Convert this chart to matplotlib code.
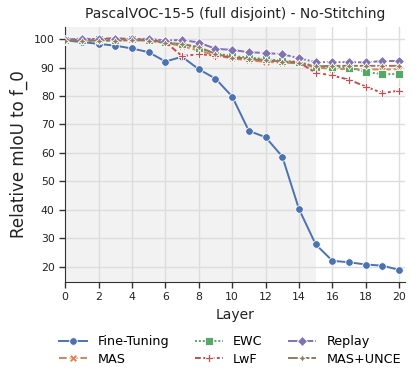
import numpy as np
import matplotlib
matplotlib.use("Agg")
import matplotlib.pyplot as plt

# ------------------------------------------
# Data
# ------------------------------------------

layers = list(range(21))

fine_tuning = [99.5, 99.0, 98.3, 97.7, 96.7, 95.4, 92.1, 93.8, 89.4, 86.1, 79.8,
               67.7, 65.5, 58.7, 40.2, 27.8, 22.0, 21.5, 20.7, 20.3, 18.8]
mas = [99.6, 99.8, 99.7, 99.9, 99.8, 99.6, 98.8, 97.5, 96.0, 94.3, 93.2,
       92.5, 92.0, 91.7, 91.5, 90.0, 89.5, 89.5, 89.4, 89.3, 89.4]
ewc = [99.7, 99.8, 100.0, 99.8, 99.9, 99.7, 98.9, 98.2, 96.8, 95.0, 94.0,
       93.5, 93.0, 92.4, 92.0, 90.3, 90.2, 90.0, 88.4, 87.7, 87.7]
lwf = [99.6, 99.9, 100.1, 100.3, 100.0, 99.8, 99.0, 94.0, 94.7, 94.2, 93.6,
       93.1, 92.6, 92.1, 91.8, 88.2, 87.2, 85.7, 83.3, 81.0, 81.9]
replay = [99.8, 100.2, 99.9, 100.2, 100.0, 100.1, 99.5, 99.7, 98.8, 96.6, 96.2,
          95.4, 95.1, 94.7, 93.3, 91.9, 91.9, 91.9, 91.8, 92.3, 92.3]
mas_unce = [99.5, 99.3, 99.5, 99.4, 99.6, 99.5, 98.6, 98.3, 97.2, 94.8, 93.5,
            93.0, 92.5, 92.1, 91.6, 90.4, 90.6, 90.6, 90.6, 90.6, 90.6]

series = [
    ("Fine-Tuning", fine_tuning, "#4C72B0", "o", ""),
    ("MAS", mas, "#DD8452", "X", (4, 1.5)),
    ("EWC", ewc, "#55A868", "s", (1, 1)),
    ("LwF", lwf, "#C44E52", "P", (3, 1.25, 1.5, 1.25)),
    ("Replay", replay, "#8172B3", "D", (5, 1, 1, 1)),
    ("MAS+UNCE", mas_unce, "#937860", (4, 1, 0), (5, 1, 2, 1, 2, 1)),
]

# ------------------------------------------
# Plot
# ------------------------------------------

fig = plt.figure(figsize=(4.15, 3.8), dpi=100)
ax = fig.add_axes([0.157, 0.259, 0.819, 0.671])

ax.axvspan(0, 15, color="#f2f2f2", zorder=0, lw=0)
ax.grid(True, color="#dddddd", lw=1.0, zorder=1)
ax.set_axisbelow(True)

for name, vals, col, mk, dash in series:
    ms = 4.6 if mk == "D" else 5.5
    kw = dict(color=col, marker=mk, markersize=ms, markeredgecolor="white",
              markeredgewidth=0.6, lw=1.4, label=name, zorder=3)
    if dash == "":
        ax.plot(layers, vals, linestyle="-", **kw)
    else:
        ax.plot(layers, vals, dashes=dash, **kw)

ax.set_xlim(0, 20.35)
ax.set_ylim(14.7, 104.4)
ax.set_xticks(range(0, 21, 2))
ax.set_yticks(range(20, 101, 10))
ax.tick_params(labelsize=7.8, length=4, width=1, color="#333333", labelcolor="#222222")

for s in ["top", "right"]:
    ax.spines[s].set_visible(False)
for s in ["left", "bottom"]:
    ax.spines[s].set_color("#333333")

ax.set_xlabel("Layer", fontsize=10, color="#222222")
ax.set_ylabel("Relative mIoU to f_0", fontsize=12, color="#222222")
ax.set_title("PascalVOC-15-5 (full disjoint) - No-Stitching", fontsize=10, color="#222222")

ax.legend(loc="upper center", bbox_to_anchor=(0.485, -0.165), ncol=3, frameon=False,
          fontsize=9.2, handlelength=2.2, columnspacing=2.0, labelspacing=0.35)

fig.savefig("out.png", dpi=100)
